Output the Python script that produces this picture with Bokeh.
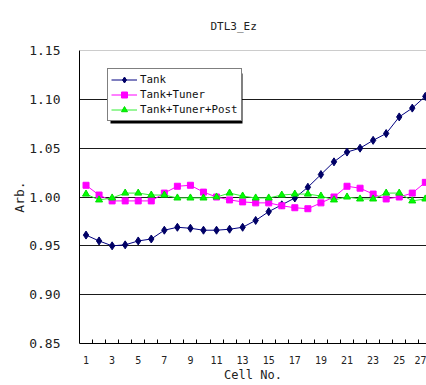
from bokeh.plotting import figure
from bokeh.models import Range1d, FixedTicker, BoxAnnotation, NumeralTickFormatter, Span
from bokeh.embed import file_html
from bokeh.resources import INLINE

title_text = "DTL3_Ez"
x_title = "Cell No."
y_title = "Arb."

cells = list(range(1, 28))
tank = [0.961, 0.955, 0.950, 0.951, 0.955, 0.957, 0.966, 0.969, 0.968, 0.966,
        0.966, 0.967, 0.969, 0.976, 0.985, 0.992, 0.999, 1.010, 1.023, 1.036,
        1.046, 1.050, 1.058, 1.065, 1.082, 1.091, 1.103]
tuner = [1.012, 1.002, 0.996, 0.996, 0.996, 0.996, 1.004, 1.011, 1.012, 1.005,
         1.000, 0.997, 0.995, 0.994, 0.994, 0.991, 0.989, 0.988, 0.994, 1.000,
         1.011, 1.009, 1.003, 0.998, 1.000, 1.004, 1.015]
post = [1.003, 0.997, 0.999, 1.004, 1.004, 1.002, 1.002, 0.999, 0.999, 0.999,
        1.000, 1.004, 1.001, 0.999, 0.999, 1.002, 1.003, 1.003, 1.001, 0.997,
        1.000, 0.998, 0.998, 1.004, 1.004, 0.996, 0.998]
series_names = ["Tank", "Tank+Tuner", "Tank+Tuner+Post"]

y_ticks = [0.85, 0.90, 0.95, 1.00, 1.05, 1.10, 1.15]
x_tick_labels = list(range(1, 28, 2))

FONT = "DejaVu Sans Mono"

p = figure(width=426, height=385, output_backend="svg", toolbar_location=None,
           x_range=Range1d(0.5, 27.09), y_range=Range1d(0.85, 1.15),
           min_border_left=79, min_border_right=0, min_border_top=50, min_border_bottom=42)
p.outline_line_color = None
p.background_fill_color = "white"
p.border_fill_color = "white"

# title
p.title.text = title_text
p.title.align = "left"
p.title.offset = 131
p.title.standoff = 35
p.title.text_font = FONT
p.title.text_font_size = "11px"
p.title.text_font_style = "normal"
p.title.text_color = "#222222"

# axes
p.yaxis.ticker = FixedTicker(ticks=y_ticks)
p.yaxis.formatter = NumeralTickFormatter(format="0.00")
p.yaxis.major_tick_in = 0
p.yaxis.major_tick_out = 0
p.yaxis.minor_tick_line_color = None
p.yaxis.major_label_standoff = 19
p.yaxis.major_label_text_font = FONT
p.yaxis.major_label_text_font_size = "13px"
p.yaxis.major_label_text_color = "#222222"
p.yaxis.axis_line_color = "black"
p.yaxis.axis_label = y_title
p.yaxis.axis_label_standoff = -1
p.yaxis.axis_label_text_font = FONT
p.yaxis.axis_label_text_font_size = "13px"
p.yaxis.axis_label_text_font_style = "normal"
p.yaxis.axis_label_text_color = "#222222"

p.xaxis.ticker = FixedTicker(ticks=x_tick_labels, minor_ticks=[c + 0.5 for c in cells[:-1]])
p.xaxis.major_tick_in = 0
p.xaxis.major_tick_out = 0
p.xaxis.minor_tick_in = 4
p.xaxis.minor_tick_out = 0
p.xaxis.minor_tick_line_color = "black"
p.xaxis.major_label_standoff = 12
p.xaxis.major_label_text_font = FONT
p.xaxis.major_label_text_font_size = "10px"
p.xaxis.major_label_text_color = "#222222"
p.xaxis.axis_line_color = "black"
p.xaxis.axis_label = x_title
p.xaxis.axis_label_standoff = 1
p.xaxis.axis_label_text_font = FONT
p.xaxis.axis_label_text_font_size = "12px"
p.xaxis.axis_label_text_font_style = "normal"
p.xaxis.axis_label_text_color = "#222222"

p.xgrid.grid_line_color = None
p.ygrid.ticker = FixedTicker(ticks=[0.90, 0.95, 1.00, 1.05, 1.10])
p.ygrid.grid_line_color = "#1a1a1a"
p.ygrid.grid_line_width = 1
p.add_layout(Span(location=1.15, dimension="width", line_color="#9a9a9a", line_width=1))

# legend shadow
p.add_layout(BoxAnnotation(left=2.875, right=12.99, top=1.1265, bottom=1.0753,
                           fill_color="black", fill_alpha=1.0, line_color=None, level="underlay"))

# series
p.line(cells, tank, line_color="#000080", line_width=1, legend_label=series_names[0])
p.scatter(cells, tank, marker="diamond", size=8, fill_color="#000066", line_color="#000066",
          legend_label=series_names[0])
p.line(cells, tuner, line_color="#FF00FF", line_width=1, legend_label=series_names[1])
p.scatter(cells, tuner, marker="square", size=6, fill_color="#FF00FF", line_color="#FF00FF",
          legend_label=series_names[1])
p.line(cells, post, line_color="#33EE33", line_width=1, legend_label=series_names[2])
p.scatter(cells, post, marker="triangle", size=7, fill_color="#00FF00", line_color="#00DD00",
          legend_label=series_names[2])

lg = p.legend[0]
lg.location = (28, 222)
lg.border_line_color = "black"
lg.border_line_width = 1
lg.background_fill_color = "white"
lg.background_fill_alpha = 1.0
lg.label_text_font = FONT
lg.label_text_font_size = "10.8px"
lg.label_text_color = "#111111"
lg.label_standoff = 3
lg.glyph_width = 26
lg.glyph_height = 15
lg.label_height = 15
lg.spacing = 0
lg.padding = 3
lg.margin = 0

open("out.html", "w").write(file_html(p, INLINE))
